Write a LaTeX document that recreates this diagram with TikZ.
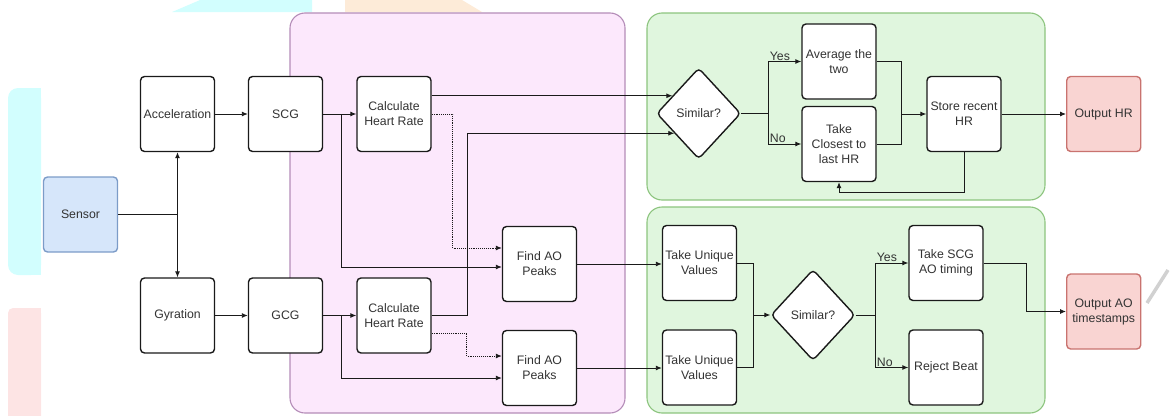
\documentclass[tikz,border=0pt]{standalone}
\usepackage{fontspec}
\setmainfont{Liberation Sans}
\usetikzlibrary{shapes.geometric,arrows.meta,calc}
\definecolor{txt}{HTML}{333333}
\definecolor{edge}{HTML}{1A1A1A}
\definecolor{pinkfill}{HTML}{FCE8FC}
\definecolor{pinkline}{HTML}{B48CB8}
\definecolor{greenfill}{HTML}{E0F6DE}
\definecolor{greenline}{HTML}{8CC47E}
\definecolor{bluefill}{HTML}{D6E6FA}
\definecolor{blueline}{HTML}{7C9CC8}
\definecolor{redfill}{HTML}{F9D4D2}
\definecolor{redline}{HTML}{C9736F}
\definecolor{bgcyan}{HTML}{D2FEFE}
\definecolor{bgorange}{HTML}{FDEBD8}
\definecolor{bgpink}{HTML}{FDE4E4}
\tikzset{
  box/.style={draw=edge, line width=1.4pt, rounded corners=4pt, fill=white,
    minimum width=74pt, minimum height=75pt, inner sep=1pt, align=center,
    text=txt, font=\fontsize{12.3}{15}\selectfont},
  sensorbox/.style={box, draw=blueline, fill=bluefill},
  outbox/.style={box, draw=redline, fill=redfill},
  dec/.style={draw=edge, line width=1.4pt, diamond, rounded corners=4pt, fill=white,
    minimum width=84pt, minimum height=91pt, inner sep=0pt, align=center,
    text=txt, font=\fontsize{12.3}{15}\selectfont},
  arr/.style={draw=edge, line width=0.9pt, -{Latex[length=6pt,width=5pt]}},
  ln/.style={draw=edge, line width=0.9pt},
  dsh/.style={arr, densely dotted},
  lbl/.style={text=txt, font=\fontsize{12.3}{15}\selectfont, inner sep=1pt},
  group/.style={rounded corners=15pt, line width=1.1pt}
}
\begin{document}
\begin{tikzpicture}[x=1pt,y=-1pt]
\useasboundingbox (0,0) rectangle (1170,415);
% faint background patches
\fill[bgcyan] (172,12) -- (200,0) -- (312,0) -- (312,12) -- cycle;
\fill[bgorange] (345,12) -- (345,0) -- (462,0) -- (482,12) -- cycle;
\fill[bgcyan, rounded corners=10pt] (8,88) rectangle (41,275);
\fill[bgcyan] (25,88) rectangle (41,275);
\fill[bgpink, rounded corners=5pt] (8,308) rectangle (41,430);
\fill[bgpink] (25,308) rectangle (41,415);
\draw[black!18, line width=3.5pt] (1147,303) -- (1168,270);
% group containers
\filldraw[group, fill=pinkfill, draw=pinkline] (290,13) rectangle (625,413);
\filldraw[group, fill=greenfill, draw=greenline] (647,13) rectangle (1045,200);
\filldraw[group, fill=greenfill, draw=greenline] (647,207) rectangle (1045,413);
% nodes
\node[sensorbox] (sensor) at (80.5,214.5) {Sensor};
\node[box] (acc) at (177.5,114) {Acceleration};
\node[box] (scg) at (285.5,114) {SCG};
\node[box] (chr1) at (394,114) {Calculate\\Heart Rate};
\node[box] (gyr) at (177.5,315.5) {Gyration};
\node[box] (gcg) at (285.5,315.5) {GCG};
\node[box] (chr2) at (394,315.5) {Calculate\\Heart Rate};
\node[box] (fao1) at (539.5,264) {Find AO\\Peaks};
\node[box] (fao2) at (539.5,368) {Find AO\\Peaks};
\node[dec] (dia1) at (698.7,113.5) {Similar?};
\node[box] (avg) at (839,61.5) {Average the\\two};
\node[box] (tcl) at (839,144) {Take\\Closest to\\last HR};
\node[box] (store) at (964,114) {Store recent\\HR};
\node[outbox] (outhr) at (1103.7,114) {Output HR};
\node[box] (tuv1) at (699.5,263) {Take Unique\\Values};
\node[box] (tuv2) at (699.5,367.5) {Take Unique\\Values};
\node[dec] (dia2) at (813,315) {Similar?};
\node[box] (tscg) at (946,263) {Take SCG\\AO timing};
\node[box] (rej) at (946,367.5) {Reject Beat};
\node[outbox] (outao) at (1103.7,311.5) {Output AO\\timestamps};
% sensor split
\coordinate (j) at (acc.south |- sensor.east);
\draw[ln] (sensor.east) -- (j);
\draw[arr] (j) -- (acc.south);
\draw[arr] (j) -- (gyr.north);
\draw[arr] (acc) -- (scg);
\draw[arr] (gyr) -- (gcg);
% SCG branch
\draw[arr] (scg) -- (chr1);
\draw[arr] (scg.east) -- ++(18.7,0) |- ([yshift=-3pt]fao1.west);
\draw[dsh] (chr1.east) -- ++(21,0) |- ([yshift=16pt]fao1.west);
% GCG branch
\draw[arr] (gcg) -- (chr2);
\draw[arr] (gcg.east) -- ++(18.7,0) |- ([yshift=-10pt]fao2.west);
\draw[dsh] ([yshift=-17.5pt]chr2.east) -- ++(35,0) |- ([yshift=12pt]fao2.west);
% heart rates to similar
\draw[arr] (chr1.east |- dia1.146) -- (dia1.146);
\draw[arr] (chr2.east) -- ++(36,0) |- (dia1.219);
% top decision
\draw[arr] (dia1.east) -- ++(27.3,0) coordinate (s1) |- (avg.west);
\draw[arr] (s1) |- (tcl.west);
\node[lbl, anchor=south west] at (s1 |- avg.west) {Yes};
\node[lbl, anchor=south west] at (s1 |- tcl.west) {No};
\draw[arr] (avg.east) -- ++(25,0) coordinate (s2) |- (store.west);
\draw[ln] (tcl.east) -| (s2 |- store.west);
\draw[arr] (store) -- (outhr);
\draw[arr] (store.south) -- ++(0,40.7) -| (tcl.south);
% AO path
\draw[arr] (fao1.east) -- (fao1.east -| tuv1.west);
\draw[arr] (fao2.east) -- (fao2.east -| tuv2.west);
\draw[arr] (tuv1.east) -- ++(16,0) coordinate (s3) |- (dia2.west);
\draw[ln] (tuv2.east) -| (s3 |- dia2.west);
\draw[arr] (dia2.east) -- ++(20,0) coordinate (s4) |- (tscg.west);
\draw[arr] (s4) |- (rej.west);
\node[lbl, anchor=south west] at (s4 |- tscg.west) {Yes};
\node[lbl, anchor=south west] at (s4 |- rej.west) {No};
\draw[arr] (tscg.east) -- ++(43,0) |- (outao.west);
\end{tikzpicture}
\end{document}
